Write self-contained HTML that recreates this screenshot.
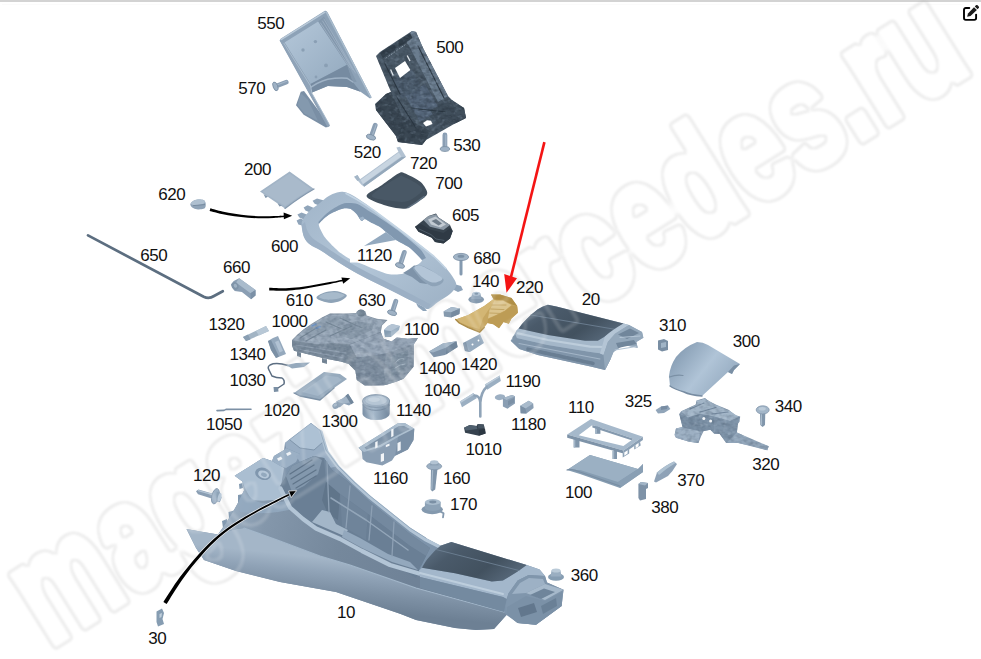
<!DOCTYPE html>
<html lang="ru"><head><meta charset="utf-8"><title>Схема</title>
<style>
html,body{margin:0;padding:0;background:#fff;}
body{width:981px;height:659px;overflow:hidden;position:relative;font-family:"Liberation Sans",sans-serif;}
#bar{position:absolute;left:0;top:0;width:981px;height:2px;background:#d3d3d3;}
#hair{position:absolute;left:2px;top:4px;width:961px;height:1px;background:#fbfbfb;}
#scheme{position:absolute;left:0;top:0;width:981px;height:659px;display:block;}
#scheme text.n{font-family:"Liberation Sans",sans-serif;font-size:17px;fill:#111;letter-spacing:-0.45px;}
#scheme text.wm{font-family:"Liberation Sans",sans-serif;font-weight:bold;font-size:152px;fill:#000;stroke:#000;stroke-width:12;stroke-linejoin:round;}
#edit{position:absolute;left:963px;top:5px;width:16px;height:16px;display:block;}
</style></head><body>
<div id="bar"></div><div id="hair"></div>
<svg id="scheme" width="981" height="659" viewBox="0 0 981 659">

<defs>
<linearGradient id="gSkirt" gradientUnits="userSpaceOnUse" x1="345" y1="560" x2="340" y2="608"><stop offset="0" stop-color="#a4b6c8"/><stop offset="0.3" stop-color="#90a3b7"/><stop offset="0.65" stop-color="#7d90a4"/><stop offset="1" stop-color="#6d8094"/></linearGradient>
<linearGradient id="gBody" gradientUnits="userSpaceOnUse" x1="225" y1="500" x2="420" y2="560"><stop offset="0" stop-color="#9fb2c5"/><stop offset="0.22" stop-color="#8497ab"/><stop offset="0.6" stop-color="#75889c"/><stop offset="1" stop-color="#6f8297"/></linearGradient>
<linearGradient id="gDark" x1="0" y1="0" x2="1" y2="0.5"><stop offset="0" stop-color="#66798c"/><stop offset="0.35" stop-color="#4a5a6a"/><stop offset="0.75" stop-color="#42515f"/><stop offset="1" stop-color="#536475"/></linearGradient>
<linearGradient id="gFrame" x1="0" y1="0" x2="1" y2="1"><stop offset="0" stop-color="#a0b4c8"/><stop offset="0.5" stop-color="#b3c6d8"/><stop offset="1" stop-color="#9cb0c4"/></linearGradient>
<linearGradient id="gCover" x1="0" y1="0.2" x2="1" y2="0.8"><stop offset="0" stop-color="#8198af"/><stop offset="0.5" stop-color="#b0c4d7"/><stop offset="1" stop-color="#8ea4ba"/></linearGradient>
<linearGradient id="gTray" x1="0" y1="0" x2="1" y2="1"><stop offset="0" stop-color="#b4c7d9"/><stop offset="1" stop-color="#94aabf"/></linearGradient>
<linearGradient id="gMod" x1="0" y1="0" x2="0" y2="1"><stop offset="0" stop-color="#94a8bc"/><stop offset="1" stop-color="#778ba1"/></linearGradient>
<linearGradient id="gTan" x1="0" y1="0" x2="1" y2="1"><stop offset="0" stop-color="#d8bb78"/><stop offset="1" stop-color="#b8964f"/></linearGradient>
<linearGradient id="gCyl" x1="0" y1="0" x2="1" y2="0"><stop offset="0" stop-color="#7a8fa5"/><stop offset="0.4" stop-color="#a6b9cb"/><stop offset="1" stop-color="#71869c"/></linearGradient>
<filter id="tex" x="-2%" y="-2%" width="104%" height="104%" color-interpolation-filters="sRGB">
<feTurbulence type="fractalNoise" baseFrequency="0.18 0.26" numOctaves="2" seed="7" result="n"/>
<feColorMatrix in="n" type="matrix" values="0 0 0 0 0.25  0 0 0 0 0.32  0 0 0 0 0.4  0.75 0 0 0 -0.3" result="a"/>
<feComposite in="a" in2="SourceAlpha" operator="in" result="m"/>
<feColorMatrix in="n" type="matrix" values="0 0 0 0 0.85  0 0 0 0 0.9  0 0 0 0 0.95  0 -0.7 0 0 0.32" result="b"/>
<feComposite in="b" in2="SourceAlpha" operator="in" result="h"/>
<feMerge><feMergeNode in="SourceGraphic"/><feMergeNode in="m"/><feMergeNode in="h"/></feMerge>
</filter>
<filter id="wmring" filterUnits="userSpaceOnUse" x="0" y="0" width="981" height="659" color-interpolation-filters="sRGB">
<feMorphology in="SourceAlpha" operator="erode" radius="2.1" result="e"/>
<feComposite in="SourceAlpha" in2="e" operator="out" result="r"/>
<feGaussianBlur in="r" stdDeviation="0.9" result="rb"/>
<feFlood flood-color="#000" flood-opacity="0.085" result="c"/>
<feComposite in="c" in2="rb" operator="in"/>
</filter>
<filter id="wmringw" filterUnits="userSpaceOnUse" x="0" y="0" width="981" height="659" color-interpolation-filters="sRGB">
<feMorphology in="SourceAlpha" operator="erode" radius="3" result="e"/>
<feComposite in="SourceAlpha" in2="e" operator="out" result="r"/>
<feGaussianBlur in="r" stdDeviation="1.2" result="rb"/>
<feFlood flood-color="#fff" flood-opacity="0.15" result="c"/>
<feComposite in="c" in2="rb" operator="in"/>
</filter>
<filter id="texd" x="-2%" y="-2%" width="104%" height="104%" color-interpolation-filters="sRGB">
<feTurbulence type="fractalNoise" baseFrequency="0.2 0.26" numOctaves="2" seed="11" result="n"/>
<feColorMatrix in="n" type="matrix" values="0 0 0 0 0.12  0 0 0 0 0.16  0 0 0 0 0.2  0.9 0 0 0 -0.34" result="a"/>
<feComposite in="a" in2="SourceAlpha" operator="in" result="m"/>
<feColorMatrix in="n" type="matrix" values="0 0 0 0 0.6  0 0 0 0 0.68  0 0 0 0 0.76  0 -0.9 0 0 0.42" result="b"/>
<feComposite in="b" in2="SourceAlpha" operator="in" result="h"/>
<feMerge><feMergeNode in="SourceGraphic"/><feMergeNode in="m"/><feMergeNode in="h"/></feMerge>
</filter>
</defs>
<g filter="url(#wmring)"><text id="wm" class="wm" transform="translate(48.5,648) rotate(-32) scale(0.722,1)">magazinmercedes.ru</text></g>
<g id="p550">
<polygon points="304.0,91.0 300.8,91.7 296.0,105.2 303.7,114.8 325.9,127.4 330.0,126.0" fill="#7a8fa5" />
<polygon points="300.8,93.0 297.5,105.0 304.5,113.5 318.0,121.0 308.0,100.0" fill="#8499ae" />
<path d="M279.6,40.6 Q279.8,39.2 281,38.4 L324.9,10.8 Q326.6,10.4 327.8,12.7 L371.7,97.5 L370,98.6 L360.5,91.7 L347,86.9 L327.8,86 L311.4,92.7 L329.5,125 L327.8,127.4 Z" fill="#8da2b7" />
<polygon points="284.5,42.6 318.2,21.4 347.0,64.7 310.5,84.0" fill="url(#gTray)" />
<polygon points="318.2,21.4 324.0,16.6 356.7,82.0 352.8,82.0 347.0,64.7" fill="#8398ad" />
<path d="M320.5,23 L350,68 M322.5,21 L353,70 M324,19 L355.5,73" fill="none" stroke="#a3b5c7" stroke-width="0.7" stroke-linejoin="round" stroke-linecap="round" />
<path d="M310.5,84 L347,64.7 L352.8,82 L360.5,91.7 L347,86.9 L327.8,86 L311.4,92.7 Z" fill="#768ba1" />
<path d="M307.6,89.8 Q317,82 327.8,79.2 Q338,77.5 347,78.2 L352.8,82" fill="none" stroke="#a0b3c6" stroke-width="1.4" stroke-linejoin="round" stroke-linecap="round" />
<polygon points="280.2,41.0 284.5,42.6 310.5,84.0 311.4,92.7 329.5,125.0 328.0,127.0" fill="#8fa3b8" />
<path d="M284,43.4 L310.6,86 L312,93.4 L329,124" fill="none" stroke="#a9bccd" stroke-width="1" stroke-linejoin="round" stroke-linecap="round" />
<path d="M281,39.6 L325,12.2" fill="none" stroke="#b9c9d8" stroke-width="1.4" stroke-linejoin="round" stroke-linecap="round" />
<path d="M326.5,12.5 L370.6,97" fill="none" stroke="#a9bccd" stroke-width="1.6" stroke-linejoin="round" stroke-linecap="round" />
<circle cx="315.4" cy="41.6" r="1.7" fill="#8a9fb4"/><circle cx="303" cy="50" r="1.7" fill="#8a9fb4"/><circle cx="326" cy="65.4" r="1.9" fill="#8a9fb4"/><circle cx="316" cy="77" r="1.4" fill="#8a9fb4"/>
</g>
<line x1="275.4" y1="86.4" x2="286.4" y2="82.2" stroke="#8a9eb3" stroke-width="4.6" stroke-linecap="round"/><line x1="275.4" y1="86.4" x2="286.4" y2="82.2" stroke="#a3b5c7" stroke-width="1.1" stroke-linecap="round" transform="translate(0.32,-0.84)"/><ellipse cx="275.4" cy="86.4" rx="2.3" ry="4.6" fill="#9fb2c5" stroke="#74899e" stroke-width="0.7" transform="rotate(-20.9 275.4 86.4)"/>
<g id="p500" filter="url(#texd)">
<polygon points="376.0,56.0 380.0,52.0 412.0,31.0 416.0,32.0 423.0,48.0 448.0,96.0 454.0,102.0 464.0,108.0 466.0,118.0 454.0,124.0 426.0,140.0 422.0,145.0 398.0,142.0 396.0,136.0 376.0,110.0 375.0,104.0 386.0,94.0 391.0,92.0" fill="#4a5967" />
<polygon points="412.0,31.0 416.0,32.0 423.0,48.0 448.0,96.0 438.0,102.0 406.0,40.0" fill="#6b7d8f" />
<polygon points="380.0,53.0 410.0,33.0 412.5,38.0 383.0,58.0" fill="#34414d" />
<polygon points="376.0,104.0 386.0,94.0 391.0,92.0 402.0,116.0 430.0,131.0 426.0,140.0 422.0,145.0 398.0,142.0 396.0,136.0 376.0,110.0" fill="#3a4753" />
<polygon points="405.0,95.0 425.0,84.0 440.0,110.0 420.0,122.0" fill="#55667a" />
<polygon points="392.0,80.0 412.0,70.0 422.0,88.0 402.0,98.0" fill="#4d5d6e" />
<polygon points="430.0,110.0 452.0,100.0 464.0,108.0 466.0,118.0 454.0,124.0 440.0,126.0" fill="#404e5b" />
<path d="M384,62 L400,94 M418,46 L444,98 M396,96 L416,128 M410,108 L446,112" fill="none" stroke="#2c3843" stroke-width="1.1" stroke-linejoin="round" stroke-linecap="round" />
<path d="M386,58 L412,40" fill="none" stroke="#9aa8b5" stroke-width="0.9" stroke-linejoin="round" stroke-linecap="round" stroke-dasharray="1 2.2"/>
</g>
<polygon points="395.0,68.0 405.0,61.0 410.4,70.0 400.0,78.0" fill="#fff" />
<polygon points="423.0,123.0 427.0,120.2 431.0,120.8 432.5,124.0 426.0,126.5" fill="#fff" />
<line x1="390.6" y1="69.5" x2="393.2" y2="75.5" stroke="#dfe5ea" stroke-width="1.3"/><line x1="407.2" y1="55.5" x2="410" y2="61" stroke="#dfe5ea" stroke-width="1.4"/>
<line x1="371" y1="137.2" x2="375.2" y2="125.2" stroke="#8a9eb3" stroke-width="4.8" stroke-linecap="round"/><line x1="371" y1="137.2" x2="375.2" y2="125.2" stroke="#a3b5c7" stroke-width="1.2" stroke-linecap="round" transform="translate(0.85,-0.30)"/><ellipse cx="371" cy="137.2" rx="2.5" ry="4.9" fill="#9fb2c5" stroke="#74899e" stroke-width="0.7" transform="rotate(-70.7 371 137.2)"/>
<line x1="444.9" y1="149" x2="444.9" y2="135" stroke="#8a9eb3" stroke-width="4.8" stroke-linecap="round"/><line x1="444.9" y1="149" x2="444.9" y2="135" stroke="#a3b5c7" stroke-width="1.2" stroke-linecap="round" transform="translate(0.90,-0.00)"/><ellipse cx="444.9" cy="149" rx="2.4" ry="4.7" fill="#9fb2c5" stroke="#74899e" stroke-width="0.7" transform="rotate(-90.0 444.9 149)"/>
<polygon points="354.2,176.7 357.5,175.0 360.0,179.2 398.4,151.7 396.4,147.5 400.0,146.7 406.0,156.7 364.2,186.7 361.7,185.0" fill="#b2c2d2" />
<polygon points="360.6,180.0 398.8,152.6 401.2,156.6 363.0,184.0" fill="#c8d5e1" />
<polygon points="363.0,184.4 401.6,157.0 406.0,156.7 364.2,186.7" fill="#94a8bb" />
<polygon points="354.2,176.7 357.5,175.0 360.0,179.2 357.4,181.0" fill="#a4b6c7" />
<path d="M366.7,195.3 C367.8,192.8 377.2,188.3 382.0,185.0 C386.8,181.7 395.0,175.4 398.4,173.6 C401.8,171.8 401.3,172.1 404.5,173.3 C407.7,174.5 416.6,178.9 420.0,181.6 C423.4,184.3 426.2,189.1 427.0,191.4 C427.8,193.7 426.7,195.1 425.0,196.8 C423.3,198.5 418.2,201.3 415.5,203.0 C412.8,204.7 410.1,207.7 406.8,208.4 C403.5,209.1 398.2,208.6 393.4,207.6 C388.6,206.6 379.0,203.6 375.0,201.8 C371.0,200.0 365.6,197.8 366.7,195.3Z" fill="#42505d" />
<path d="M372.0,195.5 C373.0,191.9 393.7,179.8 398.5,177.0 C403.3,174.2 401.1,175.9 404.0,177.0 C406.9,178.1 415.3,182.4 418.0,184.5 C420.7,186.6 423.5,188.5 422.0,191.0 C420.5,193.5 412.5,199.5 408.0,201.0 C403.5,202.5 397.4,201.8 392.0,201.0 C386.6,200.2 371.0,199.1 372.0,195.5Z" fill="#495866" />
<path d="M408,207.6 Q417,202.5 424,196.6" fill="none" stroke="#5f7080" stroke-width="1.5" stroke-linejoin="round" stroke-linecap="round" />
<g id="p605">
<polygon points="415.0,226.8 423.5,220.0 428.5,216.0 436.0,213.5 438.5,217.6 450.0,225.0 452.7,231.0 450.0,238.5 443.5,243.5 435.0,242.0 431.8,237.7 418.5,231.8" fill="#38444f" />
<polygon points="423.5,220.0 428.5,216.0 436.0,214.3 438.5,217.6 450.0,225.0 443.5,230.0 430.0,226.8" fill="#8b98a5" />
<polygon points="428.0,219.5 435.5,216.5 446.0,224.5 440.5,227.5 431.0,224.6" fill="#c3cbd3" />
<polygon points="431.5,221.0 436.0,219.0 442.0,223.6 438.5,225.6" fill="#6d7a87" />
<polygon points="415.0,226.8 418.5,231.8 431.8,237.7 435.0,242.0 443.5,243.5 450.0,238.5 452.7,231.0 450.0,228.0 443.5,233.0 430.0,229.6 421.0,224.0" fill="#2f3a45" />
<path d="M419,229 L431,234.6 L436,239 L444,240.4" fill="none" stroke="#4d5b68" stroke-width="1" stroke-linejoin="round" stroke-linecap="round" />
</g>
<path d="M260,191.6 L289.6,171.6 L314,189 Q300,197 285,208.4 Z" fill="#a2b4c6" />
<path d="M262.5,191.8 L289.6,173.5 L311,189 Q298,196.5 285,206 Z" fill="#a9bacb" />
<polygon points="263.5,194.0 265.5,198.0 268.0,196.8" fill="#8095aa" />
<polygon points="277.5,203.3 279.5,206.6 282.0,205.6" fill="#8095aa" />
<path d="M285,208.4 Q300,197 314,189" fill="none" stroke="#8599ae" stroke-width="1.3" stroke-linejoin="round" stroke-linecap="round" />
<path d="M190.4,204.0 C190.7,203.1 191.8,201.9 193.0,201.2 C194.2,200.5 195.8,199.8 197.5,199.6 C199.2,199.4 201.9,199.6 203.2,200.0 C204.5,200.4 205.0,201.1 205.4,202.2 C205.8,203.3 205.9,205.3 205.6,206.4 C205.3,207.5 204.8,208.3 203.5,208.8 C202.2,209.3 199.7,209.5 198.0,209.4 C196.3,209.3 194.7,208.7 193.6,208.2 C192.5,207.7 191.7,207.1 191.2,206.4 C190.7,205.7 190.1,204.9 190.4,204.0Z" fill="#8fa3b7" />
<path d="M190.8,203.4 C190.8,202.7 192.3,201.5 193.4,200.8 C194.5,200.1 196.0,199.6 197.6,199.4 C199.2,199.2 201.8,199.4 203.0,199.8 C204.2,200.2 205.0,201.1 205.0,201.8 C205.0,202.5 204.2,203.5 203.0,204.0 C201.8,204.5 199.6,204.8 198.0,205.0 C196.4,205.2 194.6,205.3 193.4,205.0 C192.2,204.7 190.8,204.1 190.8,203.4Z" fill="#afc0d0" />
<path d="M193.5,205.6 L204.6,204.6" fill="none" stroke="#73879c" stroke-width="0.9" stroke-linejoin="round" stroke-linecap="round" />
<g id="p600">
<polygon points="296.6,220.6 300.5,218.4 306.0,221.0 304.0,226.0 298.4,224.4" fill="#90a5ba" />
<polygon points="297.4,214.4 301.5,212.4 308.0,215.0 305.0,220.0 299.4,217.6" fill="#90a5ba" />
<polygon points="303.6,207.4 307.6,205.2 314.0,208.0 310.0,212.6 305.4,210.4" fill="#90a5ba" />
<polygon points="312.6,200.8 317.0,198.6 324.0,200.6 319.0,205.6 314.6,203.8" fill="#90a5ba" />
<polygon points="454.0,284.0 461.0,286.0 463.0,290.0 458.0,292.0 452.0,289.0" fill="#8ea4ba" />
<polygon points="416.0,303.0 424.0,307.0 427.0,311.0 423.0,311.0 418.0,307.0" fill="#8ea4ba" />
<path d="M301.6,225.0 C301.5,222.0 301.9,221.3 303.3,218.9 C304.7,216.5 306.9,213.4 309.8,210.7 C312.7,208.0 317.5,204.9 320.5,202.5 C323.5,200.1 325.2,198.2 328.0,196.5 C330.8,194.8 334.3,193.2 337.0,192.5 C339.7,191.8 341.5,191.6 344.0,192.0 C346.5,192.4 348.3,193.0 352.0,195.0 C355.7,197.0 361.0,200.5 366.0,204.0 C371.0,207.5 375.3,211.0 382.0,216.0 C388.7,221.0 397.3,227.3 406.0,234.0 C414.7,240.7 427.3,250.3 434.0,256.0 C440.7,261.7 442.7,264.2 446.0,268.0 C449.3,271.8 452.3,276.0 454.0,279.0 C455.7,282.0 456.7,283.5 456.0,286.0 C455.3,288.5 453.0,291.3 450.0,294.0 C447.0,296.7 441.7,299.5 438.0,302.0 C434.3,304.5 431.0,308.5 428.0,309.0 C425.0,309.5 424.3,307.2 420.0,305.0 C415.7,302.8 408.3,299.2 402.0,296.0 C395.7,292.8 388.7,289.3 382.0,286.0 C375.3,282.7 368.0,279.2 362.0,276.0 C356.0,272.8 351.0,270.0 346.0,267.0 C341.0,264.0 336.3,260.8 332.0,258.0 C327.7,255.2 323.7,252.2 320.0,250.0 C316.3,247.8 312.7,246.7 310.0,244.5 C307.3,242.3 305.4,240.2 304.0,236.9 C302.6,233.7 301.7,228.0 301.6,225.0Z M320.5,229.5 C321.2,231.0 323.2,235.0 324.6,236.9 C326.0,238.8 330.9,244.0 332.8,245.9 C334.7,247.8 339.0,251.8 341.0,253.3 C343.0,254.8 347.6,257.8 350.0,259.0 C352.4,260.2 359.2,262.8 362.0,264.0 C364.8,265.2 371.0,267.8 374.0,269.0 C377.0,270.2 385.3,273.4 388.0,274.0 C390.7,274.6 394.9,274.6 397.0,274.5 C399.1,274.4 404.0,273.9 406.0,273.0 C408.0,272.1 412.1,268.5 414.0,267.0 C415.9,265.5 422.5,262.2 422.0,260.0 C421.5,257.8 413.0,250.3 410.0,248.0 C407.0,245.7 398.8,241.9 396.0,240.0 C393.2,238.1 387.9,233.5 386.0,232.0 C384.1,230.5 381.6,228.1 380.0,227.0 C378.4,225.9 373.8,223.9 372.0,223.0 C370.2,222.1 366.0,219.1 364.8,218.9 C363.6,218.7 362.5,221.6 361.5,221.0 C360.5,220.4 357.8,215.4 356.6,214.0 C355.4,212.6 352.2,209.7 350.8,209.0 C349.4,208.3 345.9,208.0 344.3,208.2 C342.7,208.4 338.6,210.0 336.9,210.7 C335.2,211.4 331.4,213.1 330.0,214.0 C328.6,214.9 325.9,216.9 324.6,218.0 C323.3,219.1 319.4,222.5 318.9,223.8 C318.4,225.1 319.8,228.0 320.5,229.5Z" fill="url(#gFrame)" fill-rule="evenodd"/>
<path d="M301.6,225.0 C302.0,227.0 302.6,233.7 304.0,236.9 C305.4,240.2 307.3,242.3 310.0,244.5 C312.7,246.7 316.3,247.8 320.0,250.0 C323.7,252.2 327.7,255.2 332.0,258.0 C336.3,260.8 341.0,264.0 346.0,267.0 C351.0,270.0 356.0,272.8 362.0,276.0 C368.0,279.2 375.3,282.7 382.0,286.0 C388.7,289.3 395.7,292.8 402.0,296.0 C408.3,299.2 415.7,302.8 420.0,305.0 C424.3,307.2 426.7,308.3 428.0,309.0 L431,304.5 L431.0,304.5 C426.5,302.2 411.8,294.5 404.0,290.5 C396.2,286.5 390.7,283.8 384.0,280.5 C377.3,277.2 370.0,273.7 364.0,270.5 C358.0,267.3 353.0,264.5 348.0,261.5 C343.0,258.5 338.3,255.3 334.0,252.5 C329.7,249.7 325.5,246.8 322.0,244.5 C318.5,242.2 315.4,240.8 313.0,238.5 C310.6,236.2 308.8,233.8 307.5,231.0 C306.2,228.2 305.4,223.5 305.0,222.0Z" fill="#9cb0c5" />
<path d="M318.4,222.0 C319.3,221.1 323.1,216.7 325.0,215.0 C326.9,213.3 330.2,210.6 332.8,209.0 C335.4,207.4 341.0,204.0 344.3,203.3 C347.6,202.6 354.2,203.0 357.4,204.0 C360.6,205.0 365.0,208.6 368.0,210.5 C371.0,212.4 375.7,215.1 380.0,218.0 C384.3,220.9 394.7,227.9 400.0,232.0 C405.3,236.1 416.5,245.5 420.0,249.0 C423.5,252.5 425.2,256.8 426.0,258.0 L422,260 L422.0,260.0 C420.6,258.6 413.0,250.3 410.0,248.0 C407.0,245.7 398.8,241.9 396.0,240.0 C393.2,238.1 387.9,233.5 386.0,232.0 C384.1,230.5 381.6,228.1 380.0,227.0 C378.4,225.9 373.8,223.9 372.0,223.0 C370.2,222.1 366.0,219.1 364.8,218.9 C363.6,218.7 362.5,221.6 361.5,221.0 C360.5,220.4 357.8,215.4 356.6,214.0 C355.4,212.6 352.2,209.7 350.8,209.0 C349.4,208.3 345.9,208.0 344.3,208.2 C342.7,208.4 338.6,210.0 336.9,210.7 C335.2,211.4 331.4,213.1 330.0,214.0 C328.6,214.9 325.9,216.9 324.6,218.0 C323.3,219.1 319.6,223.1 318.9,223.8Z" fill="#8198b0" />
<polygon points="386.0,232.0 364.0,246.0 396.0,240.0" fill="#93a9bf" />
<polygon points="403.0,273.0 409.5,269.0 414.0,265.6 420.0,265.5 427.0,284.0 420.0,283.0 412.0,277.0" fill="#7e93a9" />
<path d="M413.0,268.5 C412.5,266.6 416.7,265.9 418.0,265.6 C419.3,265.3 421.0,265.2 423.0,266.0 C425.0,266.8 430.3,269.8 433.0,271.5 C435.7,273.2 441.7,277.1 443.0,278.6 C444.3,280.1 443.3,281.6 442.6,282.5 C441.9,283.4 439.5,285.1 438.0,285.6 C436.5,286.1 433.6,286.7 431.5,286.0 C429.4,285.3 424.5,282.3 422.0,280.0 C419.5,277.7 413.5,270.4 413.0,268.5Z" fill="#8ea3b8" />
<path d="M414.4,268.0 C414.1,266.5 417.8,265.1 420.0,265.4 C422.2,265.7 428.1,269.0 431.0,270.6 C433.9,272.2 440.7,276.3 442.0,277.6 C443.3,278.9 441.8,280.0 441.0,280.6 C440.2,281.2 437.4,282.2 436.0,282.4 C434.6,282.6 432.4,282.7 430.5,282.0 C428.6,281.3 424.1,278.9 422.0,277.0 C419.9,275.1 414.7,269.5 414.4,268.0Z" fill="#b3c5d7" />
<polygon points="359.0,218.0 361.5,221.0 364.8,218.9 363.0,216.5" fill="#9fb4c9" />
<path d="M346,193.5 Q366,204 382,216.5 L406,234.5 L434,256.5 L446,268.5" fill="none" stroke="#c3d4e3" stroke-width="1.6" stroke-linejoin="round" stroke-linecap="round" />
</g>
<rect x="350" y="247.5" width="42.5" height="15" fill="#fff"/>
<path d="M88,235.4 L203.7,296.7 Q209,299.2 214,296 L222.8,291.2" fill="none" stroke="#5c6e80" stroke-width="2.7" stroke-linejoin="round" stroke-linecap="round" />
<polygon points="231.0,284.6 233.7,281.0 239.2,278.3 255.5,290.1 255.5,295.6 251.0,299.2 241.9,292.0 234.6,291.0" fill="#8a9eb3" />
<polygon points="239.2,278.3 255.5,290.1 250.5,293.3 236.0,282.6" fill="#a9bbcc" />
<polygon points="250.5,293.3 255.5,290.1 255.5,295.6 251.0,299.2" fill="#7b90a6" />
<ellipse cx="235" cy="286" rx="3.4" ry="4" fill="#7f94a9" transform="rotate(-30 235 286)"/>
<ellipse cx="235.4" cy="285.8" rx="1.6" ry="2" fill="#9fb2c4" transform="rotate(-30 235.4 285.8)"/>
<path d="M316.5,297.4 C316.8,296.0 320.8,293.9 323.8,292.8 C326.8,291.7 331.2,290.9 334.7,291.0 C338.2,291.1 342.7,292.8 344.7,293.7 C346.7,294.6 347.2,295.3 346.5,296.5 C345.8,297.7 342.8,299.9 340.2,301.0 C337.6,302.1 334.0,302.9 331.0,302.9 C328.0,302.9 324.4,301.9 322.0,301.0 C319.6,300.1 316.2,298.8 316.5,297.4Z" fill="#8ea3b7" />
<path d="M319.0,296.8 C319.2,295.9 321.9,294.4 324.5,293.6 C327.1,292.8 331.5,292.1 334.7,292.2 C337.9,292.3 341.9,293.8 343.5,294.4 C345.1,295.0 344.8,295.3 344.0,296.0 C343.2,296.7 340.8,298.0 338.5,298.6 C336.2,299.2 332.6,299.5 330.0,299.6 C327.4,299.7 324.8,299.5 323.0,299.0 C321.2,298.5 318.8,297.7 319.0,296.8Z" fill="#a7bacb" />
<g id="p1000" filter="url(#tex)">
<polygon points="292.0,340.0 297.0,335.0 303.4,329.4 312.0,323.5 322.0,317.4 330.0,313.4 346.0,313.4 356.0,313.0 356.8,311.5 360.8,309.6 365.5,311.5 366.5,315.5 376.8,318.7 387.5,320.0 382.0,325.4 380.8,332.0 383.5,338.7 391.5,341.4 396.8,337.4 407.5,338.7 418.0,338.0 414.0,344.0 413.5,366.8 403.5,378.8 396.8,381.4 383.5,385.4 364.8,385.4 356.8,380.0 355.4,370.8 348.7,364.0 340.7,361.4 326.0,358.7 310.0,354.7 294.0,350.7 292.0,345.4" fill="#8796a6" />
<polygon points="293.0,340.0 303.4,330.0 322.0,318.0 330.0,314.2 346.0,314.2 356.0,313.5 366.0,316.0 376.8,319.5 386.0,320.5 381.0,325.4 380.0,332.0 368.0,337.0 350.0,344.0 334.0,343.0 316.7,344.0 300.0,341.5" fill="#9cabbb" />
<polygon points="304.0,332.0 322.0,320.0 332.0,316.0 346.0,316.0 352.0,320.0 338.0,326.0 320.0,334.0 308.0,336.0" fill="#91a1b1" />
<polygon points="336.0,328.0 356.0,321.0 374.0,324.0 372.0,330.0 352.0,339.0 340.0,336.0" fill="#8a9aaa" />
<path d="M300,338 L318,327 M306,341 L326,330 M326,322 L344,330 M340,318 L362,328 M330,336 L352,326" fill="none" stroke="#768797" stroke-width="1.2" stroke-linejoin="round" stroke-linecap="round" />
<path d="M312,326 L316,324 M316,328.5 L320,326.5" fill="none" stroke="#6e93c4" stroke-width="1.6" stroke-linejoin="round" stroke-linecap="round" />
<polygon points="292.0,340.5 300.0,342.0 316.7,344.5 334.0,343.5 350.0,345.0 356.8,357.4 355.4,370.8 348.7,364.0 340.7,361.4 326.0,358.7 310.0,354.7 294.0,350.7 292.0,345.4" fill="#7b8b9b" />
<path d="M296,345 L346,353 M300,349.5 L344,358" fill="none" stroke="#92a1b2" stroke-width="1" stroke-linejoin="round" stroke-linecap="round" />
<polygon points="350.0,344.5 368.0,337.5 380.8,332.5 383.5,338.7 391.5,341.4 396.8,337.4 407.5,338.7 418.0,338.0 414.0,344.0 400.0,349.0 386.0,353.4 370.0,356.0 356.8,357.4" fill="#97a6b7" />
<polygon points="356.8,357.4 370.0,356.0 386.0,353.4 384.0,372.0 386.0,385.0 364.8,385.4 356.8,380.0 355.4,370.8" fill="#7f8fa0" />
<polygon points="386.0,353.4 400.0,349.0 414.0,344.0 413.5,366.8 403.5,378.8 396.8,381.4 386.0,385.0 384.0,372.0" fill="#8c9bab" />
<path d="M392,356 L408,350 L407.5,365 L399,374 L391,377 Z" fill="#8192a2" />
<path d="M396,362 Q400,357 404,359 M395,368 Q400,364 405,364" fill="none" stroke="#a7b6c4" stroke-width="1" stroke-linejoin="round" stroke-linecap="round" />
<ellipse cx="361" cy="313" rx="4" ry="3.6" fill="#768797"/>
<polygon points="297.0,351.5 301.0,352.5 301.0,357.5 297.0,356.0" fill="#7b8b9b" />
<polygon points="322.0,358.0 327.0,359.2 327.0,364.0 322.0,362.5" fill="#7b8b9b" />
</g>
<polygon points="384.0,330.0 388.0,326.0 392.0,324.0 400.0,326.0 399.0,330.0 391.0,337.0 385.0,337.0" fill="#9bb0c3" />
<polygon points="384.0,330.0 391.0,331.0 391.0,337.0 385.0,337.0" fill="#869db2" />
<polygon points="388.0,326.0 392.0,324.0 400.0,326.0 391.0,331.0 384.0,330.0" fill="#b4c4d4" />
<line x1="392.1" y1="312.8" x2="395.8" y2="301.2" stroke="#8a9eb3" stroke-width="4.8" stroke-linecap="round"/><line x1="392.1" y1="312.8" x2="395.8" y2="301.2" stroke="#a3b5c7" stroke-width="1.2" stroke-linecap="round" transform="translate(0.86,-0.27)"/><ellipse cx="392.1" cy="312.8" rx="2.4" ry="4.8" fill="#9fb2c5" stroke="#74899e" stroke-width="0.7" transform="rotate(-72.3 392.1 312.8)"/>
<line x1="400" y1="265.5" x2="404.3" y2="252.4" stroke="#8a9eb3" stroke-width="4.8" stroke-linecap="round"/><line x1="400" y1="265.5" x2="404.3" y2="252.4" stroke="#a3b5c7" stroke-width="1.2" stroke-linecap="round" transform="translate(0.86,-0.28)"/><ellipse cx="400" cy="265.5" rx="2.4" ry="4.8" fill="#9fb2c5" stroke="#74899e" stroke-width="0.7" transform="rotate(-71.8 400 265.5)"/>
<line x1="461" y1="259" x2="461" y2="274" stroke="#849ab0" stroke-width="3" stroke-linecap="round"/>
<ellipse cx="461" cy="257" rx="7.6" ry="3.6" fill="#a2b5c7" stroke="#788da3" stroke-width="0.8"/>
<ellipse cx="461" cy="256.2" rx="3.4" ry="1.5" fill="#7c91a6"/>
<ellipse cx="476.2" cy="299.6" rx="7.8" ry="3.9" fill="#8499ae"/>
<polygon points="471.0,299.0 472.2,293.6 480.4,293.6 481.6,299.0" fill="#93a7bb" />
<ellipse cx="476.3" cy="293.8" rx="4.1" ry="2" fill="#b4c5d5"/>
<ellipse cx="476.3" cy="293.8" rx="2" ry="1" fill="#8499ae"/>
<polygon points="443.5,311.4 451.5,307.0 460.0,308.6 459.4,314.0 451.0,317.6 444.0,316.4" fill="#8599ad" />
<polygon points="443.5,311.4 451.5,307.0 460.0,308.6 451.4,312.2" fill="#a9bbcc" />
<polygon points="451.4,312.2 460.0,308.6 459.4,314.0 451.0,317.6" fill="#768ba0" />
<g id="p220">
<polygon points="455.7,319.6 468.3,315.1 484.2,306.0 493.3,299.2 491.0,294.6 500.1,294.6 511.5,298.0 517.2,306.0 517.9,312.8 511.5,318.5 508.8,323.7 503.5,321.9 499.0,328.3 493.3,324.2 487.6,323.0 484.2,327.6 479.6,332.2 468.3,327.6 459.2,323.0" fill="#c6a661" />
<polygon points="455.7,319.6 468.3,315.1 484.2,306.0 493.3,299.2 497.0,301.0 489.0,309.0 483.0,318.0 479.6,329.0 468.3,326.0 459.2,322.0" fill="#d3b674" />
<polygon points="491.0,294.6 500.1,294.6 511.5,298.0 517.2,306.0 512.0,304.5 503.0,300.0 494.0,299.6" fill="#b08f47" />
<polygon points="494.5,300.6 503.0,300.8 511.5,305.0 505.0,310.5 496.0,315.0 488.0,318.6 489.5,310.0" fill="#dcc58f" />
<path d="M492,305 L506,305 M490.6,309 L504,309.6 M489.6,313 L500,313.4" fill="none" stroke="#bfa160" stroke-width="0.9" stroke-linejoin="round" stroke-linecap="round" />
<polygon points="488.0,319.0 496.0,315.4 505.0,311.0 512.0,305.4 517.2,306.4 517.9,312.8 511.5,318.5 508.8,323.7 503.5,321.9 499.0,328.3 493.3,324.2 487.6,323.0" fill="#bd9c55" />
<path d="M455.7,319.6 L459.2,323 L468.3,327.6 L479.6,332.2 L484.2,327.6" fill="none" stroke="#a98a47" stroke-width="1.4" stroke-linejoin="round" stroke-linecap="round" />
</g>
<polygon points="429.0,351.5 442.8,343.5 456.4,341.2 457.6,347.0 445.0,355.0 433.7,357.2" fill="#7f93a8" />
<polygon points="429.0,351.5 442.8,343.5 456.4,341.2 446.4,347.6 433.0,352.6" fill="#a0b3c5" />
<polygon points="446.4,347.6 456.4,341.2 457.6,347.0 446.0,354.4" fill="#71869b" />
<polygon points="463.0,343.0 480.0,334.0 484.0,343.0 470.0,352.0 465.0,351.0" fill="#96aabe" />
<polygon points="463.0,343.0 466.0,342.0 468.0,350.0 470.0,352.0 465.0,351.0" fill="#7b90a5" />
<circle cx="472.5" cy="344.5" r="1" fill="#fff"/><circle cx="478.5" cy="340.5" r="0.9" fill="#fff"/>
<polygon points="459.8,401.6 473.5,393.0 477.0,398.0 462.0,407.3" fill="#9bafc2" />
<polygon points="459.8,401.6 473.5,393.0 474.4,394.4 460.6,403.0" fill="#bccbd9" />
<polygon points="484.9,384.5 499.7,375.4 500.8,381.0 487.2,389.7" fill="#9bafc2" />
<polygon points="484.9,384.5 499.7,375.4 500.0,377.0 485.4,386.0" fill="#bccbd9" />
<path d="M474.5,395.5 Q479.5,395.5 480.3,402 L480.3,416.4 M486.6,387 Q481.2,392 480.4,402" fill="none" stroke="#90a4b8" stroke-width="2.6" stroke-linejoin="round" stroke-linecap="round" />
<ellipse cx="500" cy="397.2" rx="5.2" ry="2.9" fill="#9db0c3" transform="rotate(-6 500 397.2)"/>
<polygon points="502.9,398.0 512.0,395.0 515.0,396.2 515.0,403.4 507.5,408.7 502.9,406.4" fill="#8a9eb3" />
<polygon points="502.9,398.0 512.0,395.0 515.0,396.2 506.5,400.0" fill="#a6b8c9" />
<polygon points="508.0,401.0 514.0,398.0 514.0,402.6 508.0,405.6" fill="#7b90a5" />
<polygon points="520.3,405.7 528.7,400.7 533.2,403.4 533.6,408.0 526.4,413.6 520.7,413.2" fill="#8a9eb3" />
<polygon points="520.3,405.7 528.7,400.7 533.2,403.4 525.5,408.4" fill="#a9bbcc" />
<polygon points="520.3,405.7 525.5,408.4 526.4,413.6 520.7,413.2" fill="#7b90a5" />
<polygon points="464.0,427.8 469.7,425.0 476.5,426.0 477.7,423.9 483.8,424.6 485.6,433.5 478.8,435.7 465.1,432.8" fill="#36424e" />
<polygon points="464.0,427.8 469.7,425.0 476.5,426.0 477.4,429.0 466.0,430.4" fill="#50606f" />
<polygon points="477.7,423.9 483.8,424.6 484.4,428.0 478.4,428.6" fill="#465461" />
<polygon points="478.8,430.0 485.0,428.6 485.6,433.5 478.8,435.7" fill="#2c3742" />
<path d="M362.5,401 L362.5,413.6 A13.6,6.4 0 0 0 389.7,413.6 L389.7,401Z" fill="url(#gCyl)"/>
<path d="M362.8,405 A13.5,6.3 0 0 0 389.5,405" fill="none" stroke="#73879c" stroke-width="0.8" stroke-linejoin="round" stroke-linecap="round" />
<ellipse cx="376.1" cy="401" rx="13.6" ry="6.4" fill="#9fb1c3" stroke="#8396aa" stroke-width="0.9"/>
<ellipse cx="376.1" cy="400.4" rx="10.8" ry="4.7" fill="#b6c6d5"/>
<ellipse cx="374" cy="399.6" rx="6" ry="2.4" fill="#c6d3df"/>
<g id="p1160">
<polygon points="358.5,447.8 379.2,435.0 398.3,423.1 404.7,423.1 414.3,428.7 413.5,439.9 407.9,449.4 395.1,455.8 392.0,460.6 382.4,465.4 366.5,462.2 362.5,459.0 361.7,451.0" fill="#8a9eb3" />
<polygon points="358.5,447.8 398.3,423.1 404.7,423.1 414.3,428.7 398.0,437.0 381.0,447.0 364.0,452.0" fill="#a9bccd" />
<polygon points="364.5,447.6 398.8,426.0 404.0,426.0 410.0,429.0 396.0,436.0 380.0,445.0 366.5,449.5" fill="#7e93a8" />
<polygon points="398.0,437.0 414.3,428.7 413.5,439.9 407.9,449.4 395.1,455.8" fill="#7b90a6" />
<polygon points="375.2,442.2 377.6,441.0 377.6,447.2 375.2,448.4" fill="#f2f5f8" />
<polygon points="380.8,454.2 384.0,453.0 384.0,460.8 380.8,462.0" fill="#f2f5f8" />
<polygon points="391.2,429.6 393.5,428.4 393.5,436.0 391.2,437.2" fill="#f2f5f8" />
<polygon points="397.5,443.0 400.7,441.6 400.7,450.0 397.5,451.4" fill="#f2f5f8" />
<polygon points="385.8,445.0 389.5,443.6 389.5,445.8 385.8,447.2" fill="#f2f5f8" />
</g>
<polygon points="336.2,401.6 342.6,398.5 348.1,393.7 353.7,402.4 349.0,405.6 344.0,403.8 339.6,407.4" fill="#8a9eb3" />
<polygon points="345.6,395.8 348.1,393.7 353.7,402.4 351.2,404.2" fill="#71869b" />
<polygon points="336.2,401.6 342.6,398.5 346.0,396.6 349.6,402.4 344.0,403.8" fill="#a3b5c7" />
<ellipse cx="336" cy="405.6" rx="3.8" ry="3" fill="#8fa3b7" transform="rotate(-30 336 405.6)"/>
<ellipse cx="335.2" cy="405" rx="2" ry="1.5" fill="#abbccc" transform="rotate(-30 335.2 405)"/>
<polygon points="294.0,393.0 324.0,372.0 340.0,374.0 347.0,379.0 334.0,388.0 320.0,400.0 300.0,396.0" fill="#96aabd" />
<polygon points="302.0,392.0 326.0,375.5 338.0,377.0 342.0,380.0 318.0,396.0" fill="#a3b6c8" />
<path d="M294,393 L300,396 L320,400 L334,388" fill="none" stroke="#7a8fa4" stroke-width="1.3" stroke-linejoin="round" stroke-linecap="round" />
<path d="M288,365.5 Q276,362 270,365 Q267,367 269,370 L272,376 Q276,378 282,378 Q285,380 284,384 L278,388" fill="none" stroke="#5c6e82" stroke-width="1.5" stroke-linejoin="round" stroke-linecap="round" />
<polygon points="286.0,365.0 296.0,363.0 310.0,362.5 304.0,367.0 292.0,368.5" fill="#95a9bc" />
<polygon points="273.5,387.0 278.0,387.0 278.5,391.5 274.0,392.0" fill="#7a8fa4" />
<polygon points="268.0,341.0 273.0,338.0 278.0,336.0 282.0,345.0 286.0,354.0 276.0,358.0 271.0,350.0" fill="#95a9bd" />
<polygon points="268.0,341.0 271.0,340.0 279.0,356.5 276.0,358.0 271.0,350.0" fill="#7b90a5" />
<polygon points="275.0,342.0 278.5,340.5 283.0,351.0 279.5,352.5" fill="#b1c2d3" />
<polygon points="243.0,337.0 266.0,326.0 269.0,331.0 246.0,341.0" fill="#a2b4c4" />
<polygon points="243.0,337.0 248.0,334.6 250.5,339.5 246.0,341.0" fill="#899eb2" />
<polygon points="256.0,331.0 266.0,326.0 269.0,331.0 259.0,335.5" fill="#b8c8d6" />
<path d="M217,410.6 L224,410.4 L226,409.4 L251,409.2" fill="none" stroke="#7c90a5" stroke-width="1.6" stroke-linejoin="round" stroke-linecap="round" />
<g id="p20">
<polygon points="510.7,340.7 516.4,330.7 518.6,328.5 526.4,319.3 537.8,309.3 547.8,304.7 556.4,306.4 623.5,323.5 629.0,325.0 642.0,332.0 643.4,337.8 636.3,342.0 637.7,347.8 623.5,345.0 613.5,352.0 610.6,359.0 605.0,370.0 590.6,366.4 537.8,355.0 519.3,349.0" fill="#93a7bb" />
<polygon points="515.7,337.8 547.8,345.0 590.6,352.0 602.0,353.5 610.6,359.0 605.0,370.0 590.6,366.4 537.8,355.0 519.3,349.0 510.7,340.7" fill="#8095aa" />
<path d="M528,349.2 L593,363.4" fill="none" stroke="#697e93" stroke-width="3.6" stroke-linejoin="round" stroke-linecap="round" stroke-dasharray="3.4 1.6" stroke-linecap="butt"/>
<path d="M519,343.5 L600,359" fill="none" stroke="#a3b5c7" stroke-width="1.1" stroke-linejoin="round" stroke-linecap="round" />
<polygon points="516.4,330.7 518.6,328.5 547.8,335.0 585.0,340.7 597.8,340.7 604.9,336.4 607.8,342.0 603.5,353.8 590.6,352.0 547.8,345.0 515.7,337.8" fill="#a4b7c9" />
<path d="M518,333.4 L548,340 L590,346.6 L604,347" fill="none" stroke="#bdcddb" stroke-width="2.2" stroke-linejoin="round" stroke-linecap="round" />
<path d="M518.6,328.5 Q522,323.5 526.4,319.3 Q532,313.5 537.8,309.3 Q542.5,306 547.8,304.7 L556.4,306.4 L623.5,323.5 L617.7,327.8 L604.9,336.4 L597.8,340.7 L585,340.7 L547.8,335 Z" fill="url(#gDark)" />
<path d="M531,315 L616,329.5" fill="none" stroke="#6d8093" stroke-width="0.9" stroke-linejoin="round" stroke-linecap="round" />
<path d="M623.5,323.5 L629,325 Q615,333 607.8,342 L603.5,355 L600,353.5 L604.9,336.4 Q612,330 623.5,323.5Z" fill="#b4c5d5" />
<polygon points="629.0,325.0 642.0,332.0 643.4,337.8 636.3,342.0 637.7,347.8 623.5,345.0 613.5,352.0 610.6,359.0 605.0,370.0 603.5,355.0 607.8,342.0 615.0,333.5" fill="#94a8bb" />
<polygon points="618.0,334.5 630.0,328.5 639.0,333.0 627.0,339.0" fill="#71869b" />
<polygon points="616.0,343.0 634.0,340.0 636.5,344.0 618.0,348.0" fill="#71869b" />
<path d="M620,337.5 L640,336 M615,350 L636,346.6" fill="none" stroke="#b4c5d5" stroke-width="1" stroke-linejoin="round" stroke-linecap="round" />
<polygon points="512.5,337.0 515.5,334.5 517.0,338.5 514.0,341.0" fill="#8297ab" />
</g>
<polygon points="658.0,340.5 664.0,339.0 668.0,341.0 668.0,350.0 662.0,351.5 658.0,349.5" fill="#798ea3" />
<polygon points="661.0,343.0 666.0,342.0 666.0,347.0 661.0,348.0" fill="#a0b4c6" />
<path d="M669,376 Q670,366 676,357 Q684,347 697,342 Q703,342 708,345 L740,364 L734,370 L732,374 L728,372 L702,396 Q690,395 684,392 Q674,389 670,386 Z" fill="url(#gCover)" />
<path d="M669.5,377 Q676,374.5 683,375.5" fill="none" stroke="#7b90a5" stroke-width="1.2" stroke-linejoin="round" stroke-linecap="round" />
<path d="M670,386 Q674,389 684,392 Q690,395 702,396" fill="none" stroke="#778ca2" stroke-width="1.4" stroke-linejoin="round" stroke-linecap="round" />
<polygon points="728.0,372.0 734.0,365.5 740.0,364.0 734.0,370.0 732.0,374.0" fill="#7a8fa4" />
<polygon points="655.6,410.0 661.0,406.5 668.0,405.6 670.4,409.0 664.0,413.0 658.0,413.6" fill="#91a5b9" />
<polygon points="661.0,406.5 668.0,405.6 667.0,409.0 661.0,410.0" fill="#788da3" />
<g id="p320" filter="url(#tex)">
<polygon points="674.6,435.0 676.0,428.4 682.5,427.0 679.2,413.9 681.2,411.2 695.8,404.6 696.4,400.6 705.0,398.0 707.7,400.6 715.7,404.6 728.9,409.9 735.5,415.2 740.2,416.5 739.5,421.8 736.9,424.5 736.9,432.4 746.1,437.0 752.8,441.0 768.7,446.3 767.3,450.3 751.4,445.7 738.2,443.0 726.3,443.0 719.6,433.7 714.3,433.7 710.4,429.8 703.7,431.0 701.0,436.4 698.4,443.0 689.2,441.7 676.0,437.7" fill="#8a9eb3" />
<polygon points="681.2,411.5 695.8,405.0 697.0,401.0 705.0,398.6 715.7,405.0 728.9,410.4 739.0,417.0 730.0,421.0 714.0,416.5 700.0,414.0 688.0,417.5" fill="#a3b6c8" />
<polygon points="674.6,435.0 676.0,428.4 682.5,427.0 700.0,431.5 698.4,443.0 689.2,441.7 676.0,437.7" fill="#9db0c3" />
<polygon points="682.5,427.0 679.5,414.0 688.0,417.5 700.0,414.0 714.0,416.5 714.3,433.7 710.4,429.8 703.7,431.0 700.0,431.5" fill="#7b90a5" />
<polygon points="714.0,416.5 730.0,421.0 739.0,417.0 736.9,432.4 726.3,443.0 719.6,433.7 714.3,433.7" fill="#8095aa" />
<polygon points="736.9,432.4 768.7,446.3 767.3,450.3 738.2,443.0 726.3,443.0" fill="#93a7bb" />
<path d="M690,409 L704,403 M700,412 L716,407.5 M712,414 L728,412" fill="none" stroke="#73889d" stroke-width="1.2" stroke-linejoin="round" stroke-linecap="round" />
</g>
<circle cx="703.8" cy="418.4" r="1.5" fill="#f3f6f9"/><circle cx="710.6" cy="421" r="1.5" fill="#f3f6f9"/>
<polygon points="760.0,412.0 765.3,412.0 765.0,425.0 762.6,427.0 760.3,425.0" fill="#8196ab" />
<path d="M761.4,413 L761.6,424.5" fill="none" stroke="#a9bbcc" stroke-width="1.1" stroke-linejoin="round" stroke-linecap="round" />
<ellipse cx="762.7" cy="409.9" rx="6.5" ry="4.1" fill="#a3b6c8" stroke="#8196ab" stroke-width="0.8"/>
<ellipse cx="762.2" cy="408.8" rx="3.6" ry="1.8" fill="#bccbd9"/>
<path d="M654,481.5 L657,472.5 Q666,465 674,461.6 L677,464 Q673,471 668,476 L656,482.5Z" fill="#8ea2b7" />
<path d="M657,472.5 Q666,465 674,461.6 L675.5,463 Q667,468 659,475Z" fill="#aec1d1" />
<polygon points="638.4,484.0 641.0,482.0 648.0,483.0 648.0,488.0 646.0,489.0 646.0,499.0 640.0,500.5 638.4,498.0" fill="#7e92a7" />
<polygon points="638.4,484.0 641.0,482.0 648.0,483.0 645.0,485.5" fill="#a2b5c7" />
<g id="p110">
<rect x="573.7" y="438" width="5.8" height="9.5" fill="#8196ab"/>
<rect x="573.7" y="438" width="1.6" height="9.5" fill="#a3b6c8"/>
<rect x="595.3" y="425" width="5.1" height="8.8" fill="#8196ab"/>
<rect x="595.3" y="425" width="1.6" height="8.8" fill="#a3b6c8"/>
<rect x="612.6" y="451" width="4.4" height="8.0" fill="#8196ab"/>
<rect x="612.6" y="451" width="1.6" height="8.0" fill="#a3b6c8"/>
<path d="M567.2,434.5 L591,419 L642.9,436.7 L623.4,450.4 Z M578.7,435.2 L623.4,446 L633.5,438.8 L592.4,425.1 Z" fill="#a6b9cb" fill-rule="evenodd"/>
<polygon points="567.2,434.5 623.4,450.4 623.4,453.6 567.2,437.7" fill="#7e93a8" />
<polygon points="623.4,450.4 642.9,436.7 642.9,440.0 623.4,453.6" fill="#8a9fb4" />
<polygon points="592.4,425.1 633.5,438.8 631.5,440.2 592.4,427.4" fill="#8499ae" />
<polygon points="622.7,453.5 629.2,449.0 629.2,453.4 622.7,457.6" fill="#8da2b6" />
<polygon points="634.2,446.0 640.0,441.7 640.7,445.4 634.2,449.6" fill="#8da2b6" />
<polygon points="624.3,452.4 627.6,450.2 627.6,453.6 624.3,455.8" fill="#fff" />
<polygon points="635.6,445.0 638.6,443.0 638.6,446.2 635.6,448.2" fill="#fff" />
</g>
<polygon points="567.0,470.0 590.0,455.0 638.0,469.0 643.0,464.0 643.0,472.0 620.0,488.0 580.0,474.0" fill="#869db2" />
<polygon points="567.0,470.0 590.0,455.0 638.0,469.0 618.0,482.0 580.0,470.0" fill="#9bb0c3" />
<polygon points="618.0,482.0 638.0,469.0 643.0,464.0 643.0,472.0 620.0,488.0" fill="#899fb4" />
<path d="M567,470 Q572,468 580,472 L620,486" fill="none" stroke="#798ea3" stroke-width="1.2" stroke-linejoin="round" stroke-linecap="round" />
<polygon points="431.0,468.0 437.6,468.0 435.2,489.5 432.2,491.4 430.6,489.5" fill="#8095aa" />
<path d="M432.6,470 L431.8,489" fill="none" stroke="#a6b8c9" stroke-width="1.2" stroke-linejoin="round" stroke-linecap="round" />
<ellipse cx="434.2" cy="466.3" rx="7.5" ry="3.5" fill="#9db0c3" stroke="#7f94a9" stroke-width="0.7"/>
<polygon points="429.8,465.6 430.2,462.0 438.2,462.0 438.6,465.6" fill="#8da1b5" />
<ellipse cx="434.2" cy="462.2" rx="4.2" ry="2" fill="#b2c3d3"/>
<ellipse cx="432.2" cy="509.6" rx="10.7" ry="4.6" fill="#8499ae"/>
<path d="M424.9,502 L424.9,508 A7.9,3 0 0 0 440.7,508 L440.7,502 Z" fill="#8da2b6"/>
<ellipse cx="432.8" cy="502" rx="7.9" ry="3" fill="#a9bccd"/>
<ellipse cx="432.8" cy="502" rx="3.6" ry="1.4" fill="#7b90a5"/>
<path d="M440.5,511.6 L443.6,513.2 L443,517.4" fill="none" stroke="#8499ae" stroke-width="1.8" stroke-linejoin="round" stroke-linecap="round" />
<polygon points="196.0,491.2 198.4,489.6 212.4,493.4 211.6,498.4 198.0,494.2" fill="#8a9eb3" />
<path d="M198.4,490.6 L211.8,494.4" fill="none" stroke="#b4c5d5" stroke-width="1.1" stroke-linejoin="round" stroke-linecap="round" />
<ellipse cx="215.4" cy="496.2" rx="3.6" ry="7.8" fill="#9db1c5" stroke="#7b90a6" stroke-width="0.8" transform="rotate(14 215.4 496.2)"/>
<polygon points="216.6,491.6 220.2,492.8 221.6,497.8 219.8,502.2 216.2,501.2" fill="#8ea3b7" />
<ellipse cx="219.6" cy="497.2" rx="1.7" ry="4.4" fill="#b7c8d8" transform="rotate(14 219.6 497.2)"/>
<ellipse cx="556" cy="577" rx="8" ry="3.8" fill="#869db2"/>
<polygon points="550.5,576.5 551.5,570.5 560.5,570.5 561.5,576.5" fill="#9aaec1" />
<ellipse cx="556" cy="570.6" rx="4.5" ry="2" fill="#bacad8"/>
<polygon points="156.5,611.5 162.0,608.6 164.0,613.0 162.5,619.0 164.0,624.0 158.0,626.5 156.5,622.0" fill="#869db2" />
<polygon points="159.5,614.0 162.0,613.0 161.5,617.0 159.5,618.0" fill="#c0cfdc" />
<g id="p10">
<polygon points="239.0,484.0 242.5,483.0 243.0,488.0 239.5,489.0" fill="#8299b0" />
<polygon points="238.0,495.0 243.0,494.0 243.0,502.0 238.0,503.0" fill="#8299b0" />
<polygon points="228.5,512.0 234.0,510.5 234.0,518.0 229.0,519.0" fill="#8299b0" />
<polygon points="222.0,521.0 227.0,519.0 228.0,526.0 223.0,528.0" fill="#8299b0" />
<polygon points="186.5,529.0 200.0,531.5 218.0,534.5 226.0,523.0 232.6,512.6 239.0,501.0 244.0,490.5 242.5,481.5 234.7,475.7 249.0,467.0 263.0,458.0 272.0,461.0 274.0,456.0 284.0,450.0 285.0,443.0 290.0,439.0 311.0,423.0 320.0,430.0 324.0,443.0 326.0,450.0 338.0,466.0 354.0,482.0 370.0,496.0 390.0,512.0 410.0,528.0 426.0,538.0 440.4,545.7 451.4,542.0 526.7,565.0 539.6,569.6 545.0,576.0 547.0,582.5 563.5,589.8 561.6,606.0 536.0,624.7 517.6,622.9 506.5,615.0 494.0,629.0 476.0,630.0 455.0,628.0 416.0,620.0 400.0,613.7 336.0,592.0 280.0,582.0 236.0,571.0 204.0,560.0 196.0,548.0" fill="#7d93aa" />
<path d="M186.5,529 L218,534.5 Q232,529 244,528 L280,541 L320,556 L350,565 L416,588 L504,612 L506.5,615 L494,629 L476,630 L455,628 L416,620 L400,613.7 L336,592 L280,582 L236,571 L204,560 L196,548 Z" fill="url(#gSkirt)" />
<path d="M234.7,475.7 L263,458 L272,461 L282,470 L280,486 L290,506 L316,526 L340,536 L362,548 L390,562 L419,571 L420,577 L504,600.8 L504,612 L416,588 L350,565 L320,556 L280,541 L244,528 Q232,529 218,534.5 L226,523 L232.6,512.6 L239,501 L244,490.5 L242.5,481.5 Z" fill="url(#gBody)" />
<path d="M234.7,475.7 L263,458 L272,461 L284,468 L281,486 L286,498 Q268,502 252,500 Q246,492 242.5,481.5 Z" fill="#aabed1" />
<path d="M244,490.5 Q250,500 262,503 Q276,504 288,500 L296,508 Q270,516 240,512 L239,501Z" fill="#94aac0" opacity="0.8"/>
<ellipse cx="263.2" cy="473.8" rx="8.2" ry="6" fill="#8097ae" transform="rotate(18 263.2 473.8)"/>
<ellipse cx="263.6" cy="474.4" rx="5.6" ry="3.8" fill="#b7c9da" transform="rotate(18 263.6 474.4)"/>
<ellipse cx="264" cy="474.8" rx="3" ry="2" fill="#93a9be" transform="rotate(18 264 474.8)"/>
<polygon points="272.0,461.0 274.0,456.0 284.0,450.0 286.0,448.0 300.0,454.0 296.0,462.0 286.0,468.0 280.0,466.0" fill="#9bb0c5" />
<polygon points="277.0,458.5 281.0,456.5 282.5,459.0 278.5,461.0" fill="#eef2f6" />
<polygon points="286.0,453.5 290.0,451.5 291.5,454.0 287.5,456.0" fill="#eef2f6" />
<polygon points="285.0,443.0 290.0,439.0 311.0,423.0 320.0,430.0 324.0,443.0 326.0,450.0 338.0,466.0 330.0,468.0 324.0,458.0 314.0,456.0 300.0,462.0 296.0,456.0 300.0,454.0 286.0,448.0" fill="#98adc3" />
<polygon points="290.0,440.0 311.0,423.6 319.6,430.4 323.0,442.0 314.0,450.0 300.0,448.0" fill="#adc1d4" />
<path d="M290,440 L300,448 L314,450 L323,442" fill="none" stroke="#7f95ab" stroke-width="1" stroke-linejoin="round" stroke-linecap="round" />
<polygon points="280.0,486.0 286.0,476.0 292.0,466.0 300.0,462.0 314.0,456.0 324.0,458.0 332.0,470.0 346.0,480.0 370.0,502.0 410.0,534.0 430.0,548.0 420.0,568.0 416.0,578.0 390.0,562.0 362.0,548.0 340.0,536.0 316.0,526.0 300.0,514.0 290.0,506.0" fill="#6a7f95" />
<polygon points="286.0,476.0 292.0,466.0 300.0,462.0 314.0,456.0 322.0,460.0 318.0,474.0 304.0,486.0 292.0,492.0" fill="#8398ad" />
<path d="M290,474 L312,460 M291,479 L314,465 M293,484 L316,470 M296,488 L316,476" fill="none" stroke="#5f7489" stroke-width="1.3" stroke-linejoin="round" stroke-linecap="round" />
<polygon points="324.0,458.0 332.0,470.0 346.0,480.0 370.0,502.0 410.0,534.0 430.0,548.0 426.0,556.0 410.0,546.0 368.0,514.0 340.0,494.0 326.0,482.0" fill="#74899f" />
<polygon points="326.0,482.0 340.0,494.0 338.0,520.0 328.0,514.0 322.0,500.0" fill="#60758a" />
<polygon points="340.0,494.0 368.0,514.0 366.0,540.0 342.0,526.0" fill="#6f849a" />
<polygon points="368.0,514.0 410.0,546.0 426.0,556.0 421.0,566.0 392.0,560.0 366.0,540.0" fill="#6a7f95" />
<polygon points="312.0,522.0 322.0,510.0 330.0,512.0 336.0,524.0 348.0,530.0 344.0,536.0" fill="#a3b6c8" />
<polygon points="344.0,530.0 360.0,538.0 388.0,554.0 410.0,562.0 418.0,570.0 392.0,562.0 362.0,548.0 342.0,537.0" fill="#93a8bd" />
<path d="M327,462 L329,512 M350,486 L346,528 M372,506 L369,540 M394,522 L392,556" fill="none" stroke="#8da0b4" stroke-width="1.3" stroke-linejoin="round" stroke-linecap="round" />
<path d="M331,498 L366,520 L408,550" fill="none" stroke="#93a6b9" stroke-width="1.5" stroke-linejoin="round" stroke-linecap="round" />
<path d="M321,432 L324.5,444 L327,452 L338,467 L354,483 L370,497.5 L390,513.5 L410,529.5 L426,540 L440,547" fill="none" stroke="#b3c5d6" stroke-width="3.4" stroke-linejoin="round" stroke-linecap="round" />
<path d="M320,430 L324,443 L326,450 L338,466 L354,482 L370,496 L390,512 L410,528 L426,538" fill="none" stroke="#8da3b9" stroke-width="0.8" stroke-linejoin="round" stroke-linecap="round" />
<path d="M280.5,488.5 L290,507.5 L303,519 L316,528.5 L340,539 L362,551 L390,565 L419,573.5" fill="none" stroke="#b3c5d6" stroke-width="4.2" stroke-linejoin="round" stroke-linecap="round" />
<path d="M244,528 L280,541 L320,556 L350,565 L416,588 L504,612" fill="none" stroke="#a3b7ca" stroke-width="1.1" stroke-linejoin="round" stroke-linecap="round" />
<polygon points="419.0,570.5 422.0,567.8 455.0,573.3 491.8,581.5 502.9,580.6 517.6,571.4 526.7,565.0 539.6,569.6 545.0,576.0 528.6,575.0 517.6,580.6 508.4,593.5 506.5,599.0 503.0,597.0 420.0,577.0" fill="#a3b7cb" />
<path d="M420,573 L503,594" fill="none" stroke="#bdcedd" stroke-width="2" stroke-linejoin="round" stroke-linecap="round" />
<path d="M422,567.8 Q426,560 429.4,556.7 Q435,550 440.4,545.7 L451.4,542 L526.7,565 L517.6,571.4 L502.9,580.6 L491.8,581.5 L455,573.3 Z" fill="url(#gDark)" />
<path d="M436,549.5 L519,570.5" fill="none" stroke="#6d8093" stroke-width="0.9" stroke-linejoin="round" stroke-linecap="round" />
<polygon points="420.0,577.0 503.0,597.0 506.5,599.0 504.0,612.0 420.0,588.0" fill="#748aa0" />
<polygon points="505.6,606.0 508.4,593.5 517.6,580.6 528.6,575.0 545.0,576.0 547.0,582.5 563.5,589.8 561.6,606.0 536.0,624.7 517.6,622.9 506.5,613.7" fill="#8096ac" />
<polygon points="512.0,594.0 520.0,583.0 529.0,578.0 543.0,579.0 545.0,584.0 526.0,593.0" fill="#9db1c5" />
<polygon points="526.0,593.0 545.0,584.0 563.5,589.8 545.0,600.0" fill="#a6b9cb" />
<polygon points="530.0,595.0 544.0,588.5 555.0,592.0 541.0,599.0" fill="#6f859b" />
<polygon points="507.0,607.0 526.0,596.0 545.0,601.0 562.0,592.0 561.6,606.0 536.0,624.7 517.6,622.9 506.5,613.7" fill="#7b91a7" />
<polygon points="518.0,608.0 534.0,603.0 537.0,612.0 521.0,617.0" fill="#62778d" />
<polygon points="541.0,606.0 556.0,598.0 557.0,606.0 543.0,614.0" fill="#6a8096" />
</g>
<g filter="url(#wmringw)"><use href="#wm"/></g>
<path d="M209.6,211.1 C211.7,211.6 217.6,213.2 221.7,214.1 C225.9,214.9 230.1,215.6 234.4,216.2 C238.8,216.8 243.3,217.3 247.9,217.7 C252.5,218.0 257.6,218.3 262.0,218.3 C266.3,218.3 270.2,218.1 274.0,217.9 C277.9,217.7 283.2,217.1 285.1,217.0 L284.9,215.4 C283.1,215.5 277.8,216.0 274.0,216.1 C270.1,216.3 266.3,216.4 262.0,216.3 C257.7,216.2 252.6,215.9 248.1,215.5 C243.6,215.1 239.1,214.5 234.8,213.8 C230.5,213.2 226.3,212.4 222.3,211.5 C218.2,210.6 212.3,208.9 210.4,208.3Z" fill="#000"/>
<polygon points="292.2,215.7 283.6,212.5 283.9,219.3" fill="#000" />
<path d="M269.2,290.6 C270.8,290.6 275.6,290.8 279.0,290.8 C282.4,290.8 285.3,290.7 289.3,290.4 C293.3,290.1 298.6,289.5 303.1,288.9 C307.7,288.3 312.2,287.4 316.7,286.6 C321.2,285.7 325.7,284.8 330.2,283.9 C334.7,282.9 341.4,281.5 343.7,281.0 L343.3,279.4 C341.1,279.9 334.3,281.3 329.8,282.1 C325.3,283.0 320.8,283.9 316.3,284.6 C311.8,285.4 307.4,286.1 302.9,286.7 C298.3,287.3 293.1,287.8 289.1,288.0 C285.1,288.3 282.3,288.2 279.0,288.2 C275.7,288.2 270.9,287.9 269.2,287.8Z" fill="#000"/>
<polygon points="350.2,278.2 341.4,277.4 343.2,283.8" fill="#000" />
<path d="M167.2,604.4 C169.8,600.3 177.2,587.9 182.9,579.9 C188.6,571.9 195.5,563.4 201.6,556.4 C207.7,549.4 213.5,543.4 219.5,538.1 C225.6,532.8 231.6,528.7 237.7,524.6 C243.7,520.6 248.9,517.5 255.8,513.6 C262.7,509.7 273.4,504.3 279.0,501.4 C284.6,498.5 287.9,497.0 289.7,496.1 L288.3,493.5 C286.6,494.3 283.3,495.7 277.6,498.6 C271.9,501.5 261.2,506.9 254.2,510.8 C247.2,514.6 241.9,517.7 235.7,521.8 C229.5,525.8 223.3,530.0 217.1,535.3 C210.8,540.6 204.8,546.6 198.4,553.6 C192.1,560.6 185.0,569.1 179.1,577.1 C173.2,585.1 165.5,597.5 162.8,601.6Z" fill="#fff" opacity="0.85"/>
<path d="M166.6,604.1 C169.3,600.0 176.6,587.5 182.4,579.5 C188.1,571.5 194.9,562.9 201.1,556.0 C207.2,549.0 213.1,542.9 219.1,537.6 C225.1,532.3 231.2,528.2 237.3,524.1 C243.3,520.0 248.5,516.9 255.4,513.0 C262.3,509.1 273.0,503.7 278.7,500.7 C284.3,497.8 287.6,496.4 289.3,495.5 L288.7,494.1 C286.9,494.9 283.6,496.4 277.9,499.3 C272.2,502.1 261.5,507.6 254.6,511.4 C247.6,515.2 242.3,518.3 236.1,522.3 C229.9,526.4 223.7,530.5 217.5,535.8 C211.3,541.1 205.2,547.1 198.9,554.0 C192.6,561.0 185.6,569.5 179.6,577.5 C173.7,585.5 166.1,597.9 163.4,601.9Z" fill="#000"/>
<polygon points="296.6,490.6 288.6,491.0 291.2,497.6" fill="#000" stroke="#fff" stroke-width="0.7" stroke-linejoin="round" />
<line x1="544.4" y1="142.1" x2="510.5" y2="279" stroke="#f41414" stroke-width="2.6"/>
<polygon points="506.5,292.8 504.2,274.0 517.0,278.2" fill="#f41414" />
<text class="n" x="257.3" y="29">550</text>
<text class="n" x="238.3" y="93.6">570</text>
<text class="n" x="436.3" y="52.6">500</text>
<text class="n" x="453.3" y="150.6">530</text>
<text class="n" x="353.7" y="157.6">520</text>
<text class="n" x="409.9" y="168.6">720</text>
<text class="n" x="435.3" y="189.2">700</text>
<text class="n" x="451.9" y="221.2">605</text>
<text class="n" x="243.9" y="175">200</text>
<text class="n" x="158.3" y="200">620</text>
<text class="n" x="270.9" y="251.6">600</text>
<text class="n" x="357.0" y="261">1120</text>
<text class="n" x="140.3" y="261">650</text>
<text class="n" x="222.9" y="273">660</text>
<text class="n" x="285.7" y="305.6">610</text>
<text class="n" x="358.3" y="305.6">630</text>
<text class="n" x="473.3" y="263.6">680</text>
<text class="n" x="472.0" y="286.6">140</text>
<text class="n" x="515.9" y="292.6">220</text>
<text class="n" x="581.7" y="305">20</text>
<text class="n" x="208.6" y="330">1320</text>
<text class="n" x="271.6" y="327">1000</text>
<text class="n" x="404.0" y="335">1100</text>
<text class="n" x="229.4" y="360">1340</text>
<text class="n" x="229.4" y="386">1030</text>
<text class="n" x="263.4" y="416">1020</text>
<text class="n" x="206.0" y="430">1050</text>
<text class="n" x="321.6" y="427">1300</text>
<text class="n" x="396.0" y="416">1140</text>
<text class="n" x="419.0" y="374">1400</text>
<text class="n" x="461.0" y="370">1420</text>
<text class="n" x="424.0" y="396">1040</text>
<text class="n" x="505.4" y="387">1190</text>
<text class="n" x="511.0" y="430">1180</text>
<text class="n" x="465.4" y="455">1010</text>
<text class="n" x="373.0" y="484">1160</text>
<text class="n" x="443.0" y="484">160</text>
<text class="n" x="450.0" y="509.6">170</text>
<text class="n" x="193.0" y="481">120</text>
<text class="n" x="568.0" y="413">110</text>
<text class="n" x="565.0" y="498">100</text>
<text class="n" x="658.9" y="331">310</text>
<text class="n" x="732.7" y="347">300</text>
<text class="n" x="624.7" y="407">325</text>
<text class="n" x="774.7" y="412">340</text>
<text class="n" x="752.3" y="470">320</text>
<text class="n" x="677.3" y="486">370</text>
<text class="n" x="651.3" y="513">380</text>
<text class="n" x="570.7" y="581.4">360</text>
<text class="n" x="337.0" y="617.6">10</text>
<text class="n" x="148.3" y="644">30</text>
</svg>
<svg id="edit" width="16" height="16" viewBox="0 0 16 16">
<path d="M6.3,2.95 H2.8 A1.8,1.8 0 0 0 1,4.75 V13.1 A1.8,1.8 0 0 0 2.8,14.9 H11.3 A1.8,1.8 0 0 0 13.1,13.1 V9.6" fill="none" stroke="#000" stroke-width="1.9" stroke-linecap="round"/>
<path d="M4.1,11.8 L5.0,8.5 L11.0,2.2 L13.9,5.1 L7.5,11.0 Z" fill="#1c1c1c"/>
<path d="M11.8,1.4 L12.9,0.3 A1.2,1.2 0 0 1 14.6,0.3 L15.7,1.4 A1.2,1.2 0 0 1 15.7,3.1 L14.6,4.2 Z" fill="#1c1c1c"/>
</svg>
</body></html>
